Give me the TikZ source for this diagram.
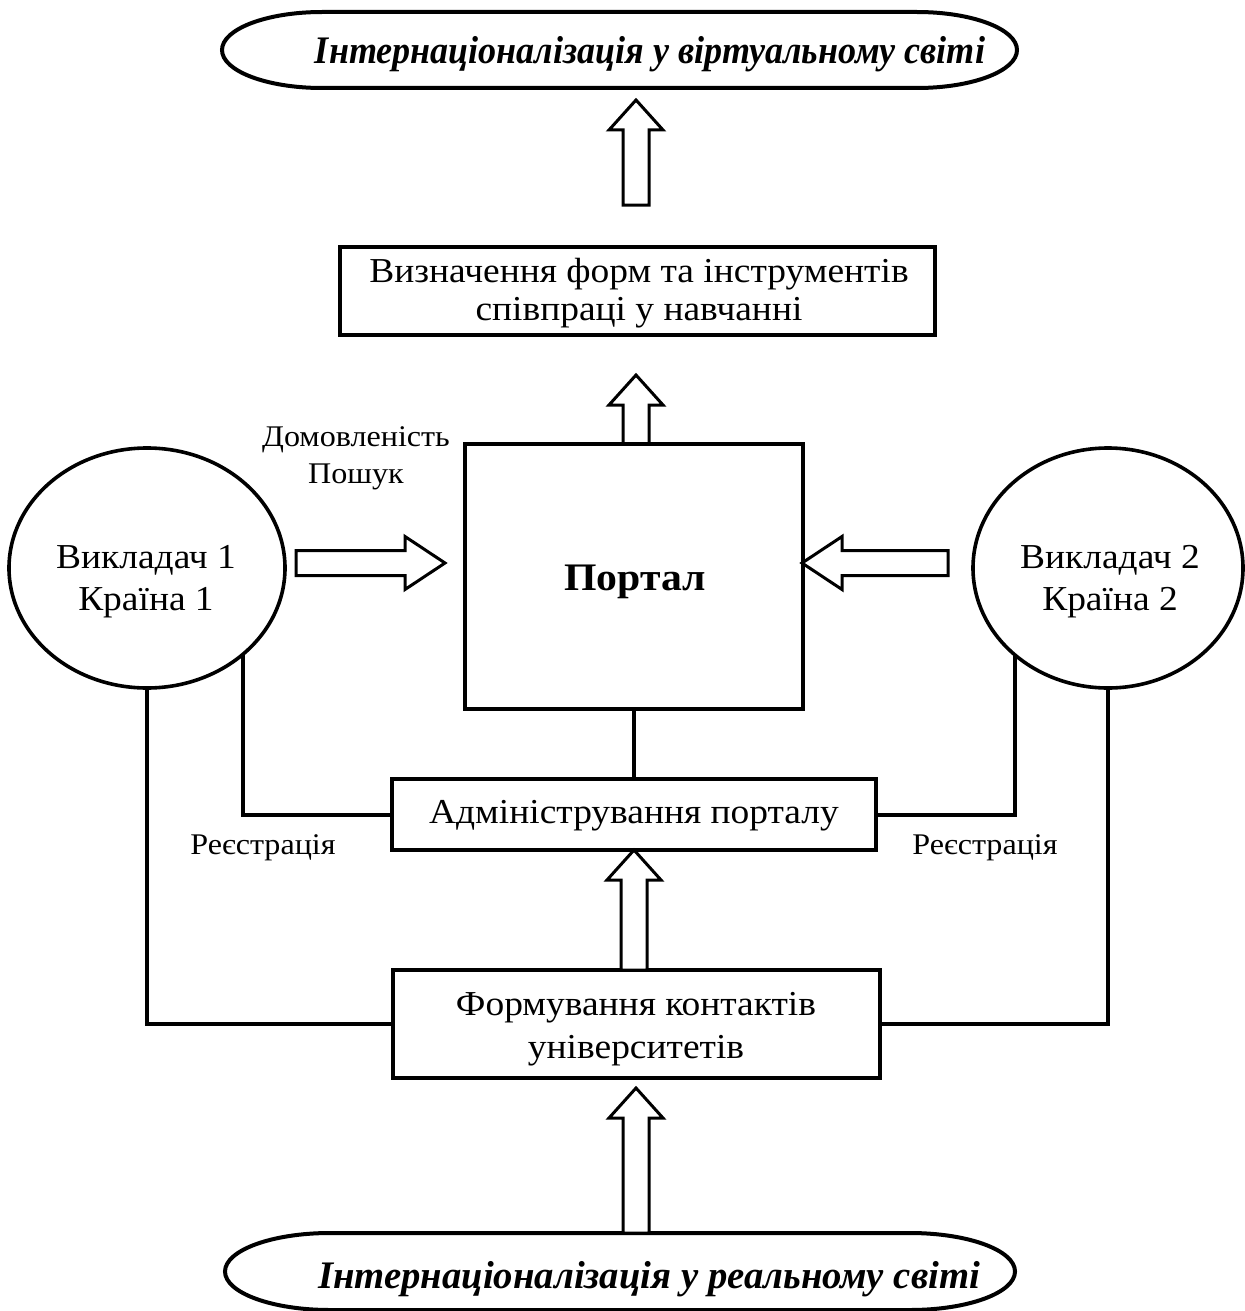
\documentclass[tikz,border=0pt]{standalone}
\usepackage{fontspec}
\usepackage{graphicx}
\setmainfont{Liberation Serif}[FakeStretch=1.07]
\usetikzlibrary{shapes.geometric,calc}
\tikzset{
  box/.style={draw,line width=2pt,inner sep=0pt,outer sep=0pt},
  ell/.style={draw,ellipse,line width=1.8pt,inner sep=0pt,outer sep=0pt},
  wire/.style={line width=2pt},
  barrow/.style={draw,line width=1.5pt,fill=white,line join=miter},
  shapeline/.style={draw,line width=2pt},
  maintext/.style={align=center,inner sep=0pt,font=\fontsize{17.5}{21}\selectfont},
  lbl/.style={align=center,inner sep=0pt,font=\fontsize{15}{18.5}\selectfont},
  titletext/.style={inner sep=0pt,font=\fontsize{19.5}{23}\selectfont\bfseries\itshape},
}
\newcommand\upblock[2]{\path[barrow] let \p1=(#1),\p2=(#2) in
  (\x2-6.5pt,\y1) -- (\x2-6.5pt,\y2-15pt) -- (\x2-13.5pt,\y2-15pt) -- (\x2,\y2)
  -- (\x2+13.5pt,\y2-15pt) -- (\x2+6.5pt,\y2-15pt) -- (\x2+6.5pt,\y1) -- cycle;}
\newcommand\rightblock[2]{\path[barrow] let \p1=(#1),\p2=(#2) in
  (\x1,\y1-6.25pt) -- (\x2-20pt,\y1-6.25pt) -- (\x2-20pt,\y1-13.25pt) -- (\x2,\y1)
  -- (\x2-20pt,\y1+13.25pt) -- (\x2-20pt,\y1+6.25pt) -- (\x1,\y1+6.25pt) -- cycle;}
\newcommand\leftblock[2]{\path[barrow] let \p1=(#1),\p2=(#2) in
  (\x1,\y1-6.25pt) -- (\x2+20pt,\y1-6.25pt) -- (\x2+20pt,\y1-13.25pt) -- (\x2,\y1)
  -- (\x2+20pt,\y1+13.25pt) -- (\x2+20pt,\y1+6.25pt) -- (\x1,\y1+6.25pt) -- cycle;}
\begin{document}
\begin{tikzpicture}[x=0.5pt,y=-0.5pt]
\useasboundingbox (0,0) rectangle (1245,1311);

% top and bottom terminal shapes
\draw[shapeline] (322,12) -- (917,12) arc[start angle=90,end angle=-90,x radius=50pt,y radius=19pt]
  -- (322,88) arc[start angle=270,end angle=90,x radius=50pt,y radius=19pt] -- cycle;
\node[titletext,anchor=base] (ttop) at (650,63) {\resizebox{335pt}{\height}{Інтернаціоналізація у віртуальному світі}};
\draw[shapeline] (330,1233) -- (910,1233) arc[start angle=90,end angle=-90,x radius=52.5pt,y radius=19.25pt]
  -- (330,1310) arc[start angle=270,end angle=90,x radius=52.5pt,y radius=19.25pt] -- cycle;
\node[titletext,anchor=base] (tbot) at (649,1288) {\resizebox{331pt}{\height}{Інтернаціоналізація у реальному світі}};

% boxes
\node[box,minimum width=297.5pt,minimum height=44pt] (b1) at (637.5,291) {};
\node[maintext,font=\fontsize{17.5}{19}\selectfont] (b1t) at (639,293) {Визначення форм та інструментів\\співпраці у навчанні};
\node[box,minimum width=169pt,minimum height=132.5pt] (portal) at (634,576) {};
\node[inner sep=0pt,font=\fontsize{19.5}{24}\selectfont\bfseries] (portalt) at (635,582) {Портал};
\node[box,minimum width=242pt,minimum height=35.5pt] (adm) at (634,814.5) {};
\node[maintext] (admt) at (634,816) {Адміністрування порталу};
\node[box,minimum width=243.5pt,minimum height=54pt] (fc) at (636.5,1024) {};
\node[maintext,font=\fontsize{17.5}{21.5}\selectfont] (fct) at (636,1029) {Формування контактів\\університетів};

% ellipses
\node[ell,minimum width=138pt,minimum height=120pt] (e1) at (147,568) {};
\node[maintext] (e1t) at (146,582) {Викладач 1\\Країна 1};
\node[ell,minimum width=135pt,minimum height=120pt] (e2) at (1108,568) {};
\node[maintext] (e2t) at (1110,582) {Викладач 2\\Країна 2};

% labels
\node[lbl] (dom) at (356,458) {Домовленість\\Пошук};
\node[lbl] (reg1) at (263,848) {Реєстрація};
\node[lbl] (reg2) at (985,848) {Реєстрація};

% wires
\draw[wire] (e1.south) |- (fc.west);
\draw[wire] (e1.-42) |- (adm.west);
\draw[wire] (e2.-137) |- (adm.east);
\draw[wire] (e2.south) |- (fc.east);
\draw[wire] (portal.south) -- (adm.north);

% block arrows
\coordinate (a0b) at (636,205);
\coordinate (a0t) at (636,100);
\upblock{a0b}{a0t}
\coordinate (a2t) at (636,375);
\upblock{portal.north}{a2t}
\upblock{fc.north}{adm.south}
\coordinate (a4b) at (636,1233);
\coordinate (a4t) at (636,1088);
\upblock{a4b}{a4t}
\coordinate (rb) at (296,563);
\coordinate (rt) at (445,563);
\rightblock{rb}{rt}
\coordinate (lb) at (948,563);
\coordinate (lt) at (802,563);
\leftblock{lb}{lt}
\end{tikzpicture}
\end{document}
